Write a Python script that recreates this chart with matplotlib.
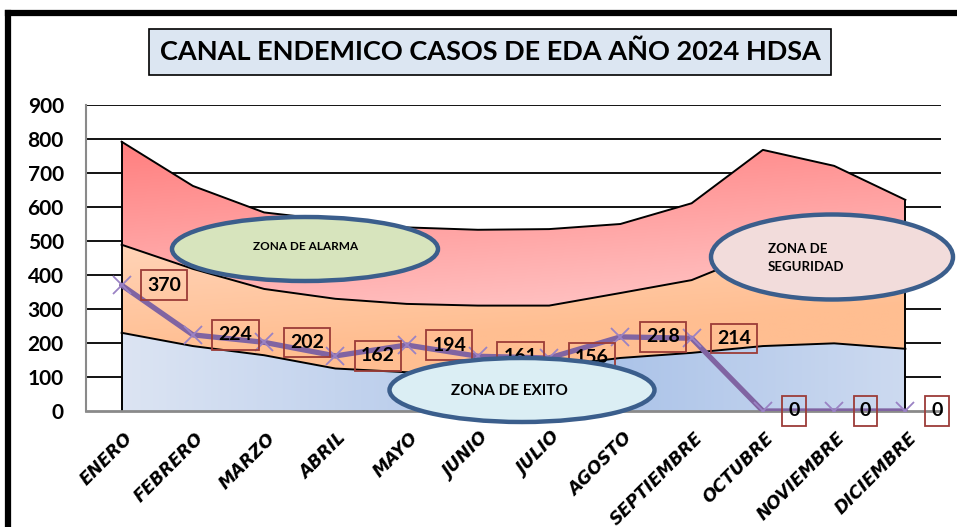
import numpy as np
import matplotlib
matplotlib.use("Agg")
import matplotlib.pyplot as plt
from matplotlib.patches import Ellipse, Polygon
from matplotlib.lines import Line2D
from matplotlib.transforms import ScaledTranslation

plt.rcParams["font.family"] = ["Lato", "DejaVu Sans"]

# ── Data ──────────────────────────────────────────────────────────────────────
MONTHS = ["ENERO", "FEBRERO", "MARZO", "ABRIL", "MAYO", "JUNIO", "JULIO",
          "AGOSTO", "SEPTIEMBRE", "OCTUBRE", "NOVIEMBRE", "DICIEMBRE"]
EXITO = [230, 191, 164, 125, 114, 115, 130, 156, 171, 191, 199, 183]
SEGURIDAD = [489, 418, 359, 330, 315, 310, 310, 347, 385, 470, 490, 455]
ALARMA = [792, 662, 584, 560, 540, 533, 535, 550, 611, 768, 721, 621]
CASOS_2024 = [370, 224, 202, 162, 194, 161, 156, 218, 214, 0, 0, 0]
Y_TICKS = [0, 100, 200, 300, 400, 500, 600, 700, 800, 900]

TITLE = "CANAL ENDEMICO CASOS DE EDA AÑO 2024 HDSA"

W, H = 957, 527
fig = plt.figure(figsize=(W / 100, H / 100), dpi=100)
ax = fig.add_axes([86 / W, 1 - 411 / H, (941 - 86) / W, (411 - 105) / H])

x = np.arange(len(MONTHS))
ax.set_xlim(-0.5, len(MONTHS) - 0.5)
ax.set_ylim(0, 900)


def gradient_band(lower, upper, top_rgb, bot_rgb, horiz=False, z=1):
    """Fill between lower/upper with a gradient image clipped to the band."""
    ny, nx = 200, 200
    gy = np.linspace(0, 1, ny)[:, None]          # 0 bottom -> 1 top
    gx = np.linspace(0, 1, nx)[None, :]
    top = np.array(top_rgb, float) / 255
    bot = np.array(bot_rgb, float) / 255
    if horiz:
        t = np.clip(np.abs(gx - 0.58) / 0.58 + 0 * gy, 0, 1)
    else:
        t = np.clip((gy * 900 - 150) / 650 - 0.25 * gx, 0, 1)
    img = bot[None, None, :] * (1 - t[..., None]) + top[None, None, :] * t[..., None]
    verts = np.column_stack([np.concatenate([x, x[::-1]]),
                             np.concatenate([upper, np.asarray(lower)[::-1]])])
    poly = Polygon(verts, closed=True, facecolor="none", edgecolor="none",
                   transform=ax.transData)
    ax.add_patch(poly)
    im = ax.imshow(img, extent=(-0.5, len(MONTHS) - 0.5, 0, 900), origin="lower",
                   aspect="auto", zorder=z, interpolation="bilinear")
    im.set_clip_path(poly)


# grid
for yv in Y_TICKS[1:]:
    ax.axhline(yv, color="black", lw=1.3, zorder=0.5)

zeros = np.zeros(len(MONTHS))
gradient_band(SEGURIDAD, ALARMA, (255, 125, 125), (255, 200, 200))
gradient_band(EXITO, SEGURIDAD, (255, 232, 220), (255, 190, 145))
gradient_band(zeros, EXITO, (224, 231, 244), (168, 193, 232), horiz=True)

for band in (EXITO, SEGURIDAD, ALARMA):
    ax.plot(x, band, color="black", lw=1.4, zorder=2)
ax.plot([x[0], x[0]], [0, ALARMA[0]], color="black", lw=1.4, zorder=2)
ax.plot([x[-1], x[-1]], [0, ALARMA[-1]], color="black", lw=1.4, zorder=2)

# 2024 cases
ax.plot(x, CASOS_2024, color="#8064A2", lw=3.8, zorder=3, solid_capstyle="round")
ax.plot(x, CASOS_2024, ls="none", marker="x", ms=13, mew=1.3, color="#9a82c4", zorder=3.1)

for xi, v in zip(x, CASOS_2024):
    ax.annotate(str(v), xy=(xi, v), xytext=(18.5, 0), textcoords="offset points",
                ha="left", va="center", fontsize=14, fontweight="bold", zorder=4,
                bbox=dict(boxstyle="square,pad=0.32", fc="none", ec="#9c3c38", lw=1.3))

# axes styling
for s in ("top", "right"):
    ax.spines[s].set_visible(False)
ax.spines["left"].set_color("#8a8a8a")
ax.spines["left"].set_linewidth(1.5)
ax.spines["bottom"].set_color("#8a8a8a")
ax.spines["bottom"].set_linewidth(2)
ax.spines["bottom"].set_zorder(2.5)

ax.set_yticks(Y_TICKS)
ax.set_yticklabels([str(v) for v in Y_TICKS], fontsize=15, fontweight="bold")
ax.tick_params(axis="y", length=0, pad=16)
ax.set_xticks(x)
ax.set_xticklabels(MONTHS, rotation=45, ha="right", rotation_mode="anchor",
                   fontsize=12.5, fontweight="bold", fontstyle="oblique",
                   family="DejaVu Sans")
ax.tick_params(axis="x", length=0, pad=13)
shift = ScaledTranslation(1.5 / 72, 0, fig.dpi_scale_trans)
for lbl in ax.get_xticklabels():
    lbl.set_transform(lbl.get_transform() + shift)


# zone ellipses (figure pixel positions)
def zone(cx, cy, w, h, fc):
    e = Ellipse((cx / W, 1 - cy / H), w / W, h / H, transform=fig.transFigure,
                fc=fc, ec="#3b5e8c", lw=3.2, zorder=6, clip_on=False)
    ax.add_patch(e)


zone(305, 249, 266, 64, "#d7e4bd")
zone(832, 257, 242, 85, "#f2dcdb")
zone(522, 390, 265, 64, "#dbeef4")

fig.text(306 / W, 1 - 246 / H, "ZONA DE ALARMA", fontsize=8.5, fontweight="bold",
         ha="center", va="center", zorder=7)
fig.text(768 / W, 1 - 258 / H, "ZONA DE\nSEGURIDAD", fontsize=9.5, fontweight="bold",
         ha="left", va="center", linespacing=1.6, zorder=7)
fig.text(509 / W, 1 - 391 / H, "ZONA DE EXITO", fontsize=11, fontweight="bold",
         ha="center", va="center", zorder=7)

# title
fig.text(490 / W, 1 - 52 / H, TITLE, fontsize=19.5, fontweight="bold",
         ha="center", va="center",
         bbox=dict(boxstyle="square,pad=0.38", fc="#dce6f2", ec="black", lw=1.2))

# outer frame (top and left)
fig.add_artist(Line2D([8 / W, 1], [1 - 13 / H, 1 - 13 / H], color="black", lw=4.5,
                      transform=fig.transFigure))
fig.add_artist(Line2D([8 / W, 8 / W], [0, 1 - 13 / H], color="black", lw=4.5,
                      transform=fig.transFigure))

fig.savefig("out.png", dpi=100)
